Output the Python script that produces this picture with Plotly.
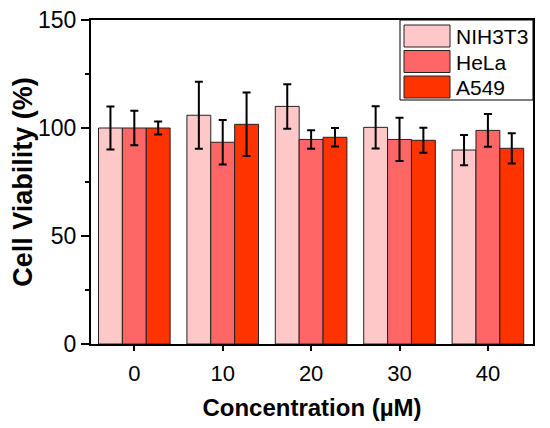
import plotly.graph_objects as go

concentrations = [0, 10, 20, 30, 40]
tick_labels = ["0", "10", "20", "30", "40"]
series_names = ["NIH3T3", "HeLa", "A549"]
nih3t3 = [100.0, 105.9, 110.0, 100.3, 89.8]
nih3t3_err = [10.0, 15.5, 10.3, 9.8, 7.0]
hela = [100.0, 93.4, 94.7, 94.7, 98.9]
hela_err = [8.0, 10.3, 4.3, 10.0, 7.6]
a549 = [100.0, 101.7, 95.7, 94.3, 90.6]
a549_err = [3.0, 14.7, 4.3, 5.8, 7.0]
colors = ["#FFC8C8", "#FF6666", "#FF3300"]

values = [nih3t3, hela, a549]
errors = [nih3t3_err, hela_err, a549_err]

FONT = "Liberation Sans, Arial, sans-serif"

# The page body has an 8px margin, so the figure is drawn 8px smaller
OFF = 8
FW, FH = 550 - OFF, 428 - OFF

fig = go.Figure()
for name, vals, errs, col in zip(series_names, values, errors, colors):
    fig.add_trace(go.Bar(
        x=concentrations, y=vals, name=name,
        marker=dict(color=col, line=dict(color="#222222", width=1)),
        error_y=dict(type="data", array=errs, visible=True,
                     color="black", thickness=2, width=4),
        showlegend=False,
    ))

# Plot area geometry (window pixels) used for the custom legend
L, R, T, B = 91, 533, 20, 344
W, H = R - L, B - T
def px(x):
    return (x - L) / W
def py(y):
    return (B - y) / H

shapes = []
annotations = []
# legend frame
shapes.append(dict(type="rect", xref="paper", yref="paper",
                   x0=px(400), x1=px(533), y0=py(100), y1=py(20),
                   line=dict(color="black", width=1), fillcolor="white", layer="above"))
for i, (name, col) in enumerate(zip(series_names, colors)):
    top = 25 + i * 25.5
    shapes.append(dict(type="rect", xref="paper", yref="paper",
                       x0=px(404), x1=px(450), y0=py(top + 22), y1=py(top),
                       line=dict(color="#222222", width=1), fillcolor=col, layer="above"))
    annotations.append(dict(xref="paper", yref="paper", x=px(454), y=py(top + 11.5),
                            text=name, showarrow=False, xanchor="left", yanchor="middle",
                            font=dict(family=FONT, size=21, color="black")))

fig.update_layout(
    width=FW, height=FH,
    margin=dict(l=L - OFF, r=550 - R, t=T - OFF, b=428 - B, autoexpand=False),
    paper_bgcolor="white", plot_bgcolor="white",
    barmode="group", bargap=0.19, bargroupgap=0,
    font=dict(family=FONT, color="black"),
    shapes=shapes, annotations=annotations,
    xaxis=dict(
        range=[-4.9, 45.1], tickvals=concentrations, ticktext=tick_labels,
        showline=True, linecolor="black", linewidth=2, mirror=True,
        ticks="outside", ticklen=5, tickwidth=2, tickcolor="black",
        showgrid=False, zeroline=False, automargin=True,
        tickfont=dict(family=FONT, size=22), ticklabeloverflow="allow",
        ticklabelstandoff=4,
        title=dict(text="<b>Concentration (µM)</b>", font=dict(family=FONT, size=24), standoff=14),
    ),
    yaxis=dict(
        range=[0, 150], tickvals=[0, 50, 100, 150],
        showline=True, linecolor="black", linewidth=2, mirror=True,
        ticks="outside", ticklen=8, tickwidth=2, tickcolor="black",
        minor=dict(tickvals=[25, 75, 125], ticks="outside", ticklen=4, tickwidth=1.5, tickcolor="black"),
        showgrid=False, zeroline=False, automargin=True,
        tickfont=dict(family=FONT, size=23), ticklabeloverflow="allow",
        title=dict(text="<b>Cell Viability (%)</b>", font=dict(family=FONT, size=27), standoff=20),
    ),
)

fig.write_html("out.html")
